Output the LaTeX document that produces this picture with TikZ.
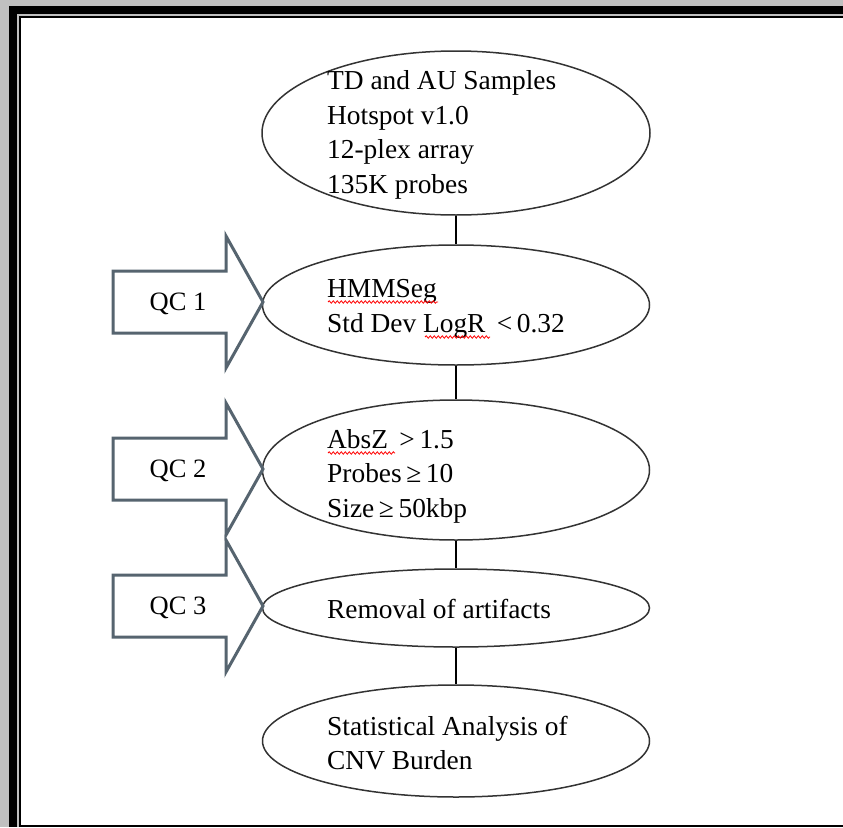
\documentclass[tikz,border=0pt]{standalone}
\usepackage{fontspec}
\setmainfont{Liberation Serif}
\usetikzlibrary{shapes.geometric,decorations.pathmorphing}
\definecolor{bggray}{HTML}{C0C0C0}
\definecolor{arrowcol}{HTML}{56646F}
\definecolor{ellcol}{HTML}{333333}
\tikzset{
  stage/.style={ellipse,draw=ellcol,line width=1.5pt,inner sep=0pt,fill=white},
  stagetext/.style={anchor=west,align=left,inner sep=0pt,font=\fontsize{27.4}{34.5}\selectfont},
  qcarrow/.style={draw=arrowcol,line width=3pt,fill=white,line join=miter},
  qctext/.style={inner sep=0pt,font=\fontsize{26.5}{30}\selectfont},
  link/.style={draw=black,line width=2.6pt},
  spell/.style={draw=red,line width=0.8pt,decorate,decoration={snake,segment length=4pt,amplitude=1.2pt}}
}
\begin{document}
\begin{tikzpicture}[x=1pt,y=-1pt]
\useasboundingbox (0,0) rectangle (843,827);
\clip (0,0) rectangle (843,827);
% frame
\fill[bggray] (0,0) rectangle (843,827);
\fill[black] (9,6) rectangle (843,827);
\fill[bggray] (17,14) rectangle (843,827);
\fill[black] (19,16) rectangle (843,827);
\fill[white] (21,18) rectangle (843,825);

% stages
\node[stage,minimum width=388pt,minimum height=164pt] (e1) at (456,133) {};
\node[stage,minimum width=387pt,minimum height=120pt] (e2) at (456,305) {};
\node[stage,minimum width=387pt,minimum height=140pt] (e3) at (456,470) {};
\node[stage,minimum width=387pt,minimum height=78pt] (e4) at (456,608) {};
\node[stage,minimum width=387pt,minimum height=112pt] (e5) at (456,741) {};

% connectors
\draw[link] (e1.south) -- (e2.north);
\draw[link] (e2.south) -- (e3.north);
\draw[link] (e3.south) -- (e4.north);
\draw[link] (e4.south) -- (e5.north);

% texts
\node[stagetext] (t1) at (327,135) {TD and AU Samples\\Hotspot v1.0\\12-plex array\\135K probes};
\node[stagetext] (t2) at (327,309) {HMMSeg\\Std Dev LogR \,<\,0.32};
\node[stagetext] (t3) at (327,476) {AbsZ \,>\,1.5\\Probes\,≥\,10\\Size\,≥\,50kbp};
\node[stagetext] (t4) at (327,609) {Removal of artifacts};
\node[stagetext] (t5) at (327,743) {Statistical Analysis of\\CNV Burden};

% spelling marks
\draw[spell] (328,302) -- (438,302);
\draw[spell] (425,337) -- (490,337);
\draw[spell] (328,453) -- (395,453);

% QC arrows
\foreach \cy/\lab/\nm in {302/QC 1/q1,469/QC 2/q2,606/QC 3/q3}{
  \draw[qcarrow] (113,\cy-31) -- (226,\cy-31) -- (226,\cy-66) -- (263,\cy)
     -- (226,\cy+66) -- (226,\cy+31) -- (113,\cy+31) -- cycle;
  \node[qctext] (\nm) at (178,\cy+2) {\lab};
}
\end{tikzpicture}
\end{document}
